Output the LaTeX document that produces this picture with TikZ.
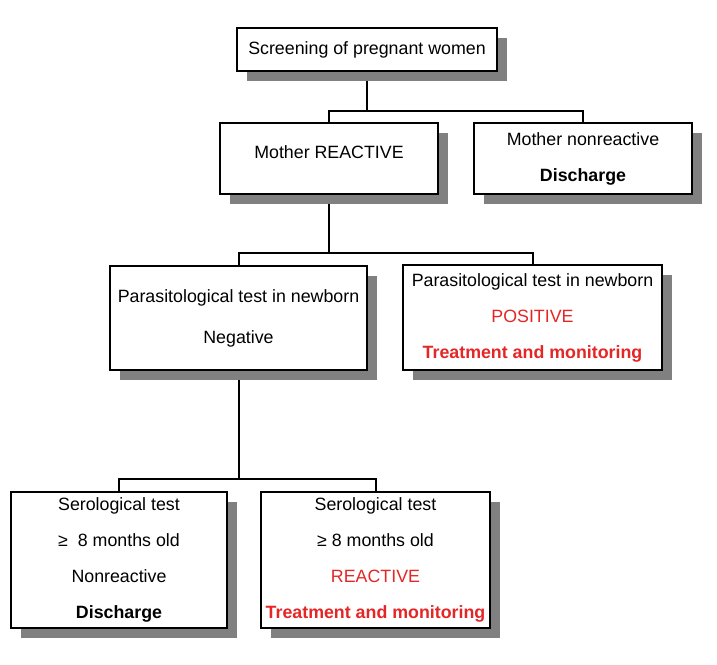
\documentclass[tikz,border=0pt]{standalone}
\usepackage{fontspec}
\setmainfont{Liberation Sans}
\usetikzlibrary{shadows}
\usetikzlibrary{backgrounds}
\definecolor{alert}{RGB}{228,38,38}
\definecolor{shade}{RGB}{128,128,128}

\begin{document}
\begin{tikzpicture}[x=1pt, y=-1pt,
    box/.style={draw, line width=2pt, fill=white, align=center, inner sep=1pt,
      font=\fontsize{17.8}{36}\selectfont,
      drop shadow={shadow xshift=10pt, shadow yshift=-10pt, fill=shade, opacity=1}},
    link/.style={line width=2pt}]
    \useasboundingbox (0,0) rectangle (717,664);

    \node[box, minimum width=260pt, minimum height=43pt] (screen) at (367,49.5)
        {Screening of pregnant women};

    \node[box, minimum width=218pt, minimum height=71pt] (react) at (329,158.5)
        {\raisebox{12pt}{Mother REACTIVE}};
    \node[box, minimum width=218pt, minimum height=71pt] (nonreact) at (583,158.5)
        {Mother nonreactive\\ \textbf{Discharge}};

    \node[box, minimum width=257pt, minimum height=104pt] (paraneg) at (238.5,318)
        {Parasitological test in newborn\\[5pt] Negative};
    \node[box, minimum width=259pt, minimum height=105pt] (parapos) at (532.5,317.5)
        {Parasitological test in newborn\\ \textcolor{alert}{POSITIVE}\\
         \textcolor{alert}{\textbf{Treatment and monitoring}}};

    \node[box, minimum width=216pt, minimum height=136pt] (seroneg) at (119,560)
        {Serological test\\ ≥~~8 months old\\ Nonreactive\\ \textbf{Discharge}};
    \node[box, minimum width=229pt, minimum height=136pt] (seropos) at (375.5,560)
        {Serological test\\ ≥ 8 months old\\ \textcolor{alert}{REACTIVE}\\
         \textcolor{alert}{\textbf{Treatment and monitoring}}};

    \begin{scope}[on background layer]
        \coordinate (bus1) at (367,111);
        \coordinate (bus2) at (329,253);
        \coordinate (bus3) at (238.5,479);
        \draw[link] (screen.south) -- (bus1);
        \draw[link] (react.north) |- (bus1) -| (nonreact.north);
        \draw[link] (react.south) -- (bus2);
        \draw[link] (paraneg.north) |- (bus2) -| (parapos.north);
        \draw[link] (paraneg.south) -- (bus3);
        \draw[link] (seroneg.north) |- (bus3) -| (seropos.north);
    \end{scope}
\end{tikzpicture}
\end{document}
